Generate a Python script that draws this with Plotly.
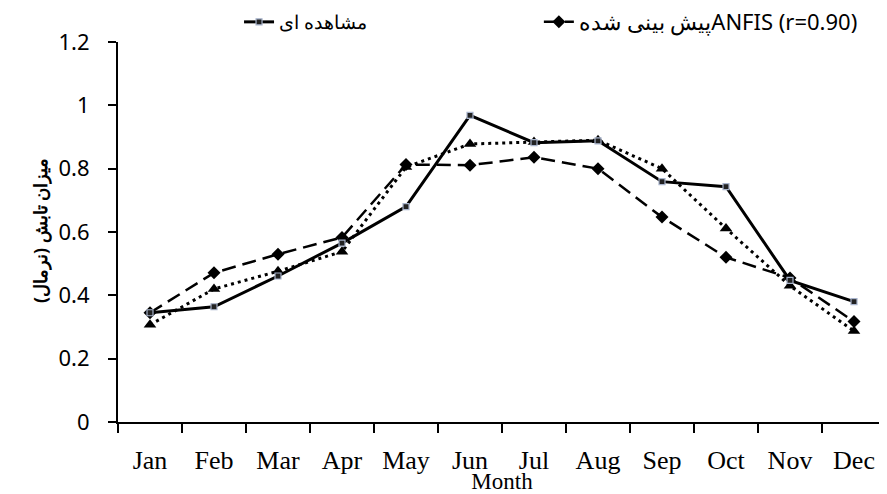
import plotly.graph_objects as go

months = ["Jan", "Feb", "Mar", "Apr", "May", "Jun", "Jul", "Aug", "Sep", "Oct", "Nov", "Dec"]
observed = [0.345, 0.364, 0.461, 0.565, 0.680, 0.968, 0.882, 0.888, 0.759, 0.743, 0.447, 0.380]
anfis = [0.345, 0.471, 0.530, 0.583, 0.813, 0.811, 0.836, 0.800, 0.647, 0.520, 0.455, 0.317]
dotted_series = [0.307, 0.420, 0.476, 0.538, 0.805, 0.878, 0.884, 0.890, 0.800, 0.611, 0.430, 0.287]

name_obs = "مشاهده ای"
name_anfis = "پیش بینی شده" + "ANFIS (r=0.90)"
y_title = "میزان تابش (نرمال)"

fig = go.Figure()
fig.add_trace(go.Scatter(
    x=months, y=dotted_series, mode="lines+markers", name="ANN", showlegend=False,
    line=dict(color="black", width=3, dash="3px,4px"),
    marker=dict(symbol="triangle-up", size=11, color="black"),
))
fig.add_trace(go.Scatter(
    x=months, y=anfis, mode="lines+markers", name=name_anfis, legend="legend2",
    line=dict(color="black", width=2.5, dash="14px,7px"),
    marker=dict(symbol="diamond", size=10, color="black"),
))
fig.add_trace(go.Scatter(
    x=months, y=observed, mode="lines+markers", name=name_obs, legend="legend",
    line=dict(color="black", width=3),
    marker=dict(symbol="square", size=6, color="#222222", line=dict(color="#a8b4cc", width=1.2)),
))

# page body has an 8px margin: figure is sized/offset to compensate
fig.update_layout(
    width=879, height=486,
    margin=dict(l=110, r=1, t=34, b=72, autoexpand=False),
    paper_bgcolor="white", plot_bgcolor="white",
    showlegend=True,
    legend=dict(
        orientation="h", x=0.1576, xanchor="left", y=1.0526, yanchor="middle",
        font=dict(family="Noto Sans", size=19, color="black"), bgcolor="rgba(0,0,0,0)",
    ),
    legend2=dict(
        orientation="h", x=0.548, xanchor="left", y=1.0526, yanchor="middle",
        font=dict(family="Noto Sans", size=22, color="black"), bgcolor="rgba(0,0,0,0)",
    ),
    xaxis=dict(
        type="category", range=[-0.5, 11.5], tickson="boundaries",
        ticks="outside", ticklen=9, tickwidth=2, tickcolor="black",
        showline=True, linecolor="black", linewidth=2, showgrid=False, zeroline=False,
        tickfont=dict(family="Liberation Serif", size=26, color="black"),
        ticklabelstandoff=14,
        title=dict(text="Month", font=dict(family="Liberation Serif", size=23, color="black"), standoff=5),
    ),
    yaxis=dict(
        range=[0, 1.2], dtick=0.2, tick0=0,
        ticks="outside", ticklen=8, tickwidth=1.5, tickcolor="black",
        showline=True, linecolor="black", linewidth=2, showgrid=False, zeroline=False,
        tickfont=dict(family="Noto Sans", size=22, color="black"),
        ticklabelstandoff=14,
    ),
    annotations=[dict(
        text="<b>" + y_title + "</b>", textangle=-90, showarrow=False,
        xref="paper", yref="paper", x=-0.1016, y=0.505, xanchor="center", yanchor="middle",
        font=dict(family="Noto Sans", size=18, color="black"),
    )],
)

fig.write_html("out.html")
